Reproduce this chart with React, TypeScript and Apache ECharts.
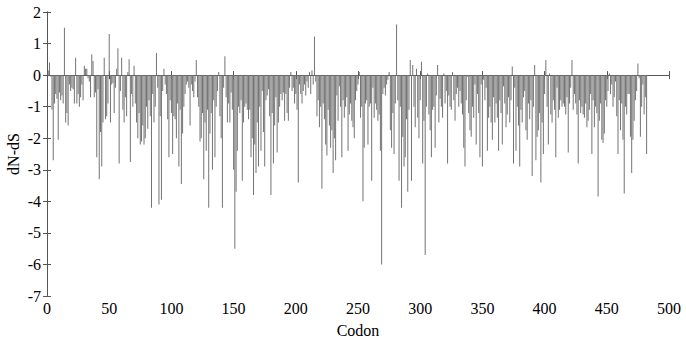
import React, { useEffect, useRef } from "react";
import * as echarts from "echarts";

const xTicks = { min: 0, max: 500, interval: 50 };
const yTicks = { min: -7, max: 2, interval: 1 };
const xLabel = "Codon";
const yLabel = "dN-dS";

// dN-dS per codon, codons 1..482
const dndsPart1 = [
  0.15, 0.4, -0.05, -1.1, -2.7, -0.9, -0.6, -0.75, -2.05, -0.55,
  -0.8, -0.65, -0.9, 1.5, -1.5, -1.2, -1.6, -0.3, -0.5, -0.4,
  -0.45, -0.9, 0.55, -0.9, -0.6, -1.0, -0.7, -0.3, -0.8, 0.3,
  0.2, 0.2, -0.1, -0.2, -0.7, 0.65, 0.45, -0.7, -0.55, -2.6,
  -0.45, -3.3, -1.8, -2.9, -1.5, 0.55, -1.4, -1.3, -0.9, 1.3,
  -1.5, -0.3, -0.25, -1.2, -0.4, 0.2, 0.85, -2.8, -0.5, 0.55,
  -1.1, -1.5, -0.7, -1.3, 0.1, 0.5, -2.75, -0.6, -1.0, 0.3,
  -0.9, -1.5, -2.0, -1.2, -2.2, -2.1, -1.6, -2.2, -2.0, -1.0,
  -1.7, -0.8, -1.3, -4.2, -0.6, -1.5, -1.0, 0.7, -0.4, -4.1,
  -1.3, -3.95, -0.5, 0.2, -0.3, -0.6, -1.4, -2.6, -0.8, -1.2,
];
const dndsPart2 = [
  -2.5, -1.3, -1.4, -2.0, -0.9, -2.9, -1.1, -3.45, -1.85, -1.0,
  -0.6, -0.3, -0.2, -0.4, -1.6, -0.3, -0.5, -0.7, -0.2, 0.48,
  -0.7, -1.0, -2.1, -2.0, -1.2, -3.3, -1.5, -2.4, -1.1, -4.2,
  -1.85, -1.2, -3.0, -0.8, -2.6, -1.0, -0.5, 0.1, -1.3, -2.0,
  -4.2, -0.4, 0.6, -0.7, -1.5, -0.9, -1.5, -0.55, -1.1, -3.0,
  -5.5, -3.7, -2.4, -1.0, -1.2, -0.8, -3.35, -1.5, -1.0, -0.9,
  -1.1, -1.4, -1.1, -2.6, -2.0, -3.8, -2.2, -3.1, -1.5, -2.9,
  -1.0, -2.4, -0.5, -1.8, -2.9, -0.8, -0.65, -0.45, -1.3, -3.8,
  -1.2, -2.8, -1.6, -0.7, -2.45, -1.5, -1.0, -0.6, -0.8, -0.55,
  -1.45, -0.6, -1.2, -1.45, -0.4, 0.1, -0.5, -0.4, -0.9, -0.6,
];
const dndsPart3 = [
  -1.1, -3.4, -0.3, -0.6, -0.9, -0.5, -0.3, -0.65, -0.2, -0.4,
  0.1, -0.6, 0.15, -0.3, 1.22, -0.2, -1.3, -0.8, -1.65, -1.0,
  -3.6, -0.9, -1.4, -2.2, -2.55, -1.1, -1.6, -2.3, -1.75, -3.1,
  -2.0, -2.7, -0.65, -1.45, -0.35, -1.0, -2.6, -0.8, -1.35, -1.0,
  -0.7, -2.4, -1.25, -0.9, -1.45, -1.65, -2.0, -0.8, -0.5, -0.3,
  0.1, -1.35, -1.0, -4.0, -2.3, -0.9, -0.8, -2.2, -1.0, -0.9,
  -3.35, -0.4, -1.35, -0.9, -1.1, -1.45, -1.25, -2.4, -6.0, -0.6,
  -0.4, -0.65, -0.3, -0.15, 0.1, -1.75, -2.3, -1.2, -2.5, -0.9,
  1.6, -0.8, -3.35, -1.0, -4.2, -1.95, -2.9, -2.6, -1.4, -3.7,
  -1.1, 0.48, -3.35, 0.32, -1.0, -1.65, 0.2, -1.35, -2.0, -0.8,
];
const dndsPart4 = [
  0.42, -2.8, -1.45, -5.7, -1.0, 0.05, -1.25, -1.75, -2.6, -1.1,
  -1.0, -2.3, -0.65, 0.32, -1.5, -0.75, -1.0, -1.35, 0.05, -0.9,
  -0.5, -2.8, -0.65, -1.0, -1.1, 0.1, -0.8, -1.45, -0.6, -0.4,
  -1.0, -0.5, -0.9, -1.25, -2.3, -2.9, -0.8, -0.05, -1.2, -1.75,
  -1.95, -1.0, -1.35, -0.3, -2.2, -0.6, -1.2, -2.6, -0.3, -2.9,
  -0.15, -0.8, -0.4, -2.4, -1.35, -1.0, -1.5, -2.05, -0.7, -1.5,
  -0.9, -1.35, -2.4, -0.8, -1.2, -2.2, -0.35, -0.9, -1.65, -1.25,
  -0.7, -1.5, -0.8, 0.27, -2.8, -0.4, -2.4, -1.0, -1.6, -2.9,
  -1.1, -1.5, -0.7, -0.5, -1.75, -2.05, -0.9, -1.4, -0.8, -3.2,
  -1.0, 0.32, -2.7, -1.95, -1.75, -1.2, -3.4, -1.5, -2.5, -0.6,
];
const dndsPart5 = [
  0.48, -1.0, -2.2, 0.05, -1.25, -1.5, -0.8, -1.1, -2.6, -0.4,
  -1.35, -1.1, -0.8, -1.0, -0.9, -1.0, -1.25, -0.7, -2.45, -0.9,
  -0.4, 0.48, -1.1, -0.6, -0.9, -1.25, -2.8, -0.8, -1.2, -1.0,
  -1.25, -1.35, -0.9, -1.65, -1.45, -1.1, -0.6, -2.5, -0.8, -1.65,
  -1.0, -1.2, -3.85, -1.45, -0.9, -2.05, -2.15, -1.85, -0.8, -1.0,
  -0.5, 0.05, -0.6, -0.3, -1.0, -0.7, -0.2, -1.3, -2.5, -0.8,
  -1.75, -0.9, -2.05, -3.75, -1.0, -1.25, -0.6, -0.6, -1.95, -3.1,
  -2.05, -1.45, -0.8, -0.5, 0.37, -0.1, -1.95, -1.0, -0.3, -1.25,
  -0.7, -2.5,
];

const dnds = [...dndsPart1, ...dndsPart2, ...dndsPart3, ...dndsPart4, ...dndsPart5];

const FONT = "'Liberation Serif', 'Times New Roman', serif";

export default function App() {
  const ref = useRef<HTMLDivElement>(null);
  useEffect(() => {
    document.body.style.margin = "0";
    if (!ref.current) return;
    const chart = echarts.init(ref.current, undefined, { renderer: "svg" });
    const axisLine = { show: true, lineStyle: { color: "#555", width: 1 } };
    const tick = { show: true, inside: true, length: 4, lineStyle: { color: "#555" } };
    chart.setOption({
      animation: false,
      backgroundColor: "#fff",
      grid: {
        left: 47,
        right: 17,
        top: 12,
        bottom: 47,
        containLabel: false,
        outerBoundsMode: "none",
      },
      graphic: [
        {
          type: "text",
          x: 13,
          y: 154,
          rotation: Math.PI / 2,
          style: {
            text: yLabel,
            fontFamily: FONT,
            fontSize: 16,
            fill: "#000",
            align: "center",
            verticalAlign: "middle",
          },
        },
      ],
      xAxis: [
        {
          type: "value",
          min: xTicks.min,
          max: xTicks.max,
          interval: xTicks.interval,
          name: xLabel,
          nameLocation: "middle",
          nameGap: 26,
          nameTextStyle: { fontFamily: FONT, fontSize: 16, color: "#000" },
          axisLine,
          axisTick: tick,
          axisLabel: { fontFamily: FONT, fontSize: 16, color: "#000", margin: 4 },
          splitLine: { show: false },
        },
        {
          type: "value",
          position: "top",
          min: xTicks.min,
          max: xTicks.max,
          interval: xTicks.interval,
          axisLine,
          axisTick: tick,
          axisLabel: { show: false },
          splitLine: { show: false },
        },
      ],
      yAxis: [
        {
          type: "value",
          min: yTicks.min,
          max: yTicks.max,
          interval: yTicks.interval,
          axisLine,
          axisTick: tick,
          axisLabel: { fontFamily: FONT, fontSize: 16, color: "#000", margin: 6 },
          splitLine: { show: false },
        },
        {
          type: "value",
          position: "right",
          min: yTicks.min,
          max: yTicks.max,
          interval: yTicks.interval,
          axisLine,
          axisTick: tick,
          axisLabel: { show: false },
          splitLine: { show: false },
        },
      ],
      series: [
        {
          type: "bar",
          xAxisIndex: 0,
          yAxisIndex: 0,
          barWidth: 1,
          itemStyle: { color: "#737373" },
          data: dnds.map((v, i) => [i + 1, v]),
        },
      ],
    });
    return () => chart.dispose();
  }, []);
  return <div ref={ref} style={{ width: 686, height: 343 }} />;
}
